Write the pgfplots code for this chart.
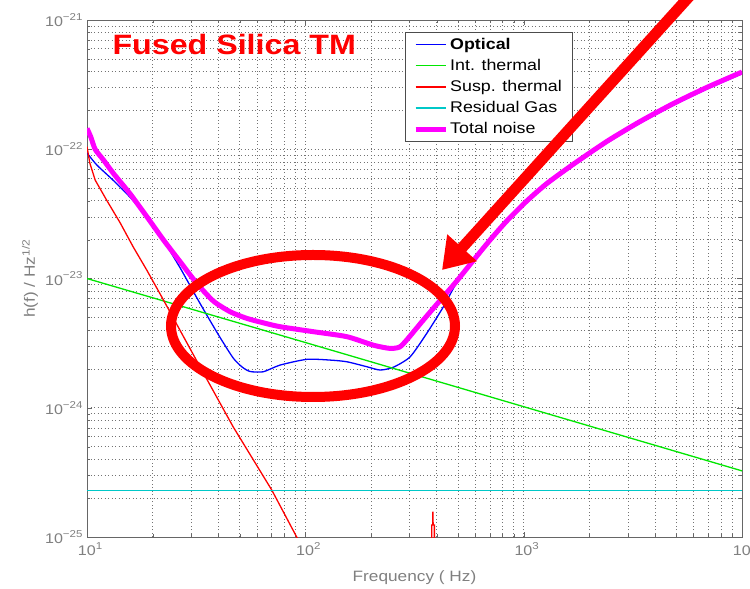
\documentclass[border=0pt]{standalone}
\usepackage{fontspec}
\setmainfont[FakeStretch=1.15]{Liberation Sans}
\usepackage{pgfplots}
\pgfplotsset{compat=1.18}
\usetikzlibrary{arrows.meta}

\definecolor{optblue}{RGB}{0,0,255}
\definecolor{intgreen}{RGB}{0,230,0}
\definecolor{susred}{RGB}{255,0,0}
\definecolor{gascyan}{RGB}{0,200,200}
\definecolor{totmag}{RGB}{255,0,255}
\definecolor{labgray}{RGB}{128,128,128}

% power-of-ten tick label in the text font
\newcommand{\dec}[1]{10\raisebox{0.85ex}{\fontsize{10}{10}\selectfont#1}}

\begin{document}
\begin{tikzpicture}
\useasboundingbox (0pt,0pt) rectangle (750pt,589pt);
\begin{axis}[
  at={(87pt,52pt)}, anchor=south west,
  scale only axis, width=655pt, height=517pt,
  xmode=log, ymode=log,
  xmin=10, xmax=10000, ymin=1e-25, ymax=1e-21,
  xtick={10,100,1000,10000},
  xticklabels={\dec{1},\dec{2},\dec{3},\dec{4}},
  minor xtick={20,30,40,50,60,70,80,90,200,300,400,500,600,700,800,900,2000,3000,4000,5000,6000,7000,8000,9000},
  ytick={1e-25,1e-24,1e-23,1e-22,1e-21},
  yticklabels={\dec{−25},\dec{−24},\dec{−23},\dec{−22},\dec{−21}},
  minor ytick={2e-25,3e-25,4e-25,5e-25,6e-25,7e-25,8e-25,9e-25,
               2e-24,3e-24,4e-24,5e-24,6e-24,7e-24,8e-24,9e-24,
               2e-23,3e-23,4e-23,5e-23,6e-23,7e-23,8e-23,9e-23,
               2e-22,3e-22,4e-22,5e-22,6e-22,7e-22,8e-22,9e-22},
  grid=both,
  major grid style={black!55, line width=0.6pt, dash pattern=on 1pt off 2.5pt},
  minor grid style={black!55, line width=0.6pt, dash pattern=on 1pt off 2.5pt},
  axis line style={black!60, line width=0.8pt},
  tick align=inside,
  major tick length=5pt, minor tick length=3pt,
  tick style={black!60},
  ticklabel style={text=labgray, font=\fontsize{14}{14}\selectfont},
  xticklabel style={xshift=3pt, yshift=-2pt},
  yticklabel style={xshift=-1pt},
  xlabel={Frequency ( Hz)},
  ylabel={h(f) / Hz\textsuperscript{1/2}},
  label style={text=labgray, font=\fontsize{15}{15}\selectfont},
  xlabel style={at={(axis description cs:0.5,0)}, anchor=center, yshift=-41pt},
  ylabel style={at={(axis description cs:-0.087,0.5)}, anchor=center, rotate=0},
  legend style={at={(axis description cs:0.4855,0.9768)}, anchor=north west,
    draw=black!70, fill=white,
    font=\fontsize{15.5}{16}\selectfont,
    inner xsep=8pt, inner ysep=4pt, row sep=4.4pt, cells={anchor=west}},
  legend image code/.code={\draw[#1] (0pt,0pt) -- (30pt,0pt);},
]
% Optical
\addplot[optblue, line width=1.3pt, smooth, tension=0.4] coordinates {
(10,9.35e-23) (11.1,7.55e-23) (13.15,5.78e-23) (15.7,4.28e-23) (18.8,2.99e-23)
(22.3,1.99e-23) (26.7,1.21e-23) (31.9,7.06e-24) (35.8,5.04e-24) (40.6,3.52e-24)
(46.7,2.43e-24) (51.3,2.07e-24) (55.8,1.91e-24) (64.2,1.90e-24) (76.6,2.14e-24)
(101.5,2.37e-24) (129.7,2.34e-24) (155,2.27e-24) (191,2.08e-24) (220,1.96e-24)
(253,2.06e-24) (302,2.48e-24) (360,3.77e-24) (429,6.05e-24) (494,9.3e-24)
(588,1.34e-23) (702,1.93e-23) (837,2.71e-23) (1033,3.86e-23) (1276,5.27e-23)
(1689,7.44e-23) (2403,1.115e-22) (3412,1.59e-22) (4851,2.19e-22) (6899,2.92e-22)
(10000,3.84e-22)
};
\addlegendentry{\bfseries Optical}
% Internal thermal
\addplot[intgreen, line width=1.3pt] coordinates {
(10,1.0e-23) (100,3.2e-24) (1000,1.02e-24) (10000,3.25e-25)
};
\addlegendentry{Int. thermal}
% Suspension thermal, with the violin resonance
\addplot[susred, line width=1.3pt] coordinates {
(10,1.05e-22) (10.3,7.83e-23) (10.9,5.78e-23) (12.3,4.04e-23) (14.2,2.69e-23)
(16.3,1.75e-23) (18.8,1.16e-23) (22.4,6.82e-24) (32.9,2.08e-24) (46.7,7.13e-25)
(70.2,2.31e-25) (91.3,1.0e-25) (100,7.5e-26) (200,8.0e-27) (378,1.2e-27)
(379.5,1.24e-25) (383,1.24e-25) (384,1.57e-25) (385,1.24e-25) (390,1.24e-25)
(391,1.1e-27) (500,5e-28)
};
\addlegendentry{Susp. thermal}
% Residual gas
\addplot[gascyan, line width=1.3pt] coordinates {
(10,2.3e-25) (10000,2.3e-25)
};
\addlegendentry{Residual Gas}
% Total noise
\addplot[totmag, line width=5pt, smooth, tension=0.4] coordinates {
(10,1.45e-22) (10.4,1.25e-22) (10.9,1.0e-22) (11.9,8.26e-23) (13.2,6.52e-23)
(15.7,4.56e-23) (18.8,3.01e-23) (22.4,1.99e-23) (26.7,1.35e-23) (31.8,9.2e-24)
(37.9,6.7e-24) (45.2,5.54e-24) (53.9,4.92e-24) (64,4.55e-24) (76.6,4.24e-24)
(108.8,3.88e-24) (155,3.55e-24) (205,3.05e-24) (244,2.88e-24) (270,2.95e-24)
(291,3.34e-24) (347,4.77e-24) (414,6.76e-24) (494,9.57e-24) (588,1.38e-23)
(702,1.99e-23) (837,2.79e-23) (1033,3.98e-23) (1276,5.43e-23) (1689,7.67e-23)
(2403,1.15e-22) (3412,1.64e-22) (4851,2.26e-22) (6899,3.01e-22) (10000,3.96e-22)
};
\addlegendentry{Total noise}
\end{axis}
% heading and highlight marks
\node[anchor=base west, text=red, font=\bfseries\fontsize{28}{28}\selectfont] at (109pt,534pt) {Fused Silica TM};
\draw[red, line width=10pt] (313pt,263pt) ellipse [x radius=142pt, y radius=71pt];
\draw[red, line width=11pt, -{Triangle[length=30pt, width=38pt]}] (706pt,611pt) -- (442pt,319pt);
\end{tikzpicture}
\end{document}
